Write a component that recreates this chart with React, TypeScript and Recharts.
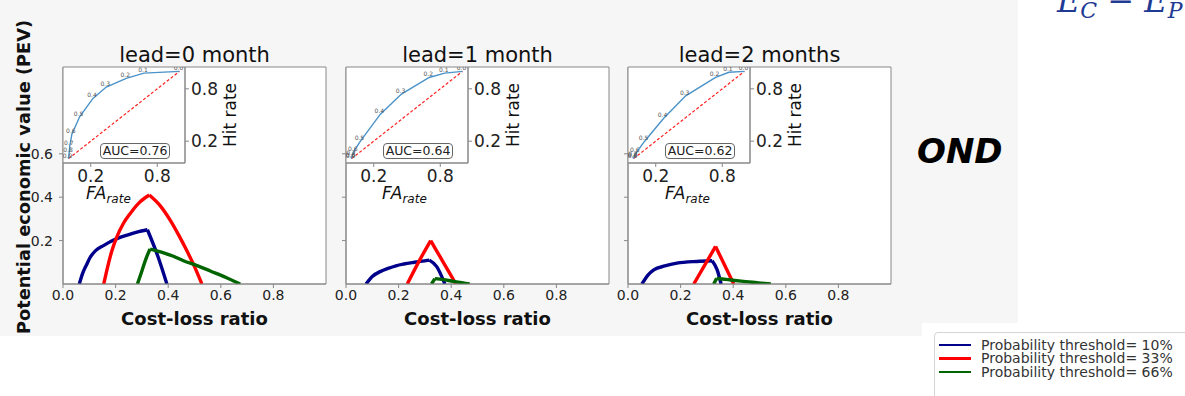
import React from "react";
import { LineChart, Line, XAxis, YAxis, ReferenceArea, LabelList } from "recharts";

type Pt = { x: number; y: number };
type RocPt = { x: number; y: number; t: string };

const leadTitles = ["lead=0 month", "lead=1 month", "lead=2 months"];
const aucLabels = ["AUC=0.76", "AUC=0.64", "AUC=0.62"];
const thresholdNames = [
  "Probability threshold= 10%",
  "Probability threshold= 33%",
  "Probability threshold= 66%",
];
const costLossTicks = [0, 0.2, 0.4, 0.6, 0.8];
const pevTicks = [0.2, 0.4, 0.6];
const rocTicks = [0.2, 0.8];

// PEV curves, x = cost-loss ratio, y = PEV
const pevLead0Th10: Pt[] = [
  { x: 0.062, y: 0 }, { x: 0.075, y: 0.05 }, { x: 0.09, y: 0.09 }, { x: 0.103, y: 0.122 },
  { x: 0.125, y: 0.155 }, { x: 0.154, y: 0.177 }, { x: 0.185, y: 0.198 }, { x: 0.217, y: 0.215 },
  { x: 0.25, y: 0.228 }, { x: 0.281, y: 0.239 }, { x: 0.321, y: 0.25 }, { x: 0.36, y: 0.13 },
  { x: 0.395, y: 0 },
];
const pevLead0Th33: Pt[] = [
  { x: 0.155, y: 0 }, { x: 0.17, y: 0.08 }, { x: 0.185, y: 0.15 }, { x: 0.204, y: 0.215 },
  { x: 0.23, y: 0.28 }, { x: 0.255, y: 0.324 }, { x: 0.29, y: 0.375 }, { x: 0.328, y: 0.41 },
  { x: 0.37, y: 0.36 }, { x: 0.408, y: 0.293 }, { x: 0.44, y: 0.225 }, { x: 0.471, y: 0.153 },
  { x: 0.5, y: 0.08 }, { x: 0.528, y: 0 },
];
const pevLead0Th66: Pt[] = [
  { x: 0.283, y: 0 }, { x: 0.3, y: 0.06 }, { x: 0.315, y: 0.115 }, { x: 0.331, y: 0.161 },
  { x: 0.38, y: 0.145 }, { x: 0.42, y: 0.128 }, { x: 0.458, y: 0.107 }, { x: 0.51, y: 0.085 },
  { x: 0.56, y: 0.06 }, { x: 0.62, y: 0.03 }, { x: 0.674, y: 0 },
];
const pevLead1Th10: Pt[] = [
  { x: 0.076, y: 0 }, { x: 0.1, y: 0.035 }, { x: 0.13, y: 0.057 }, { x: 0.16, y: 0.072 },
  { x: 0.19, y: 0.084 }, { x: 0.22, y: 0.092 }, { x: 0.26, y: 0.1 }, { x: 0.317, y: 0.11 },
  { x: 0.345, y: 0.08 }, { x: 0.376, y: 0 },
];
const pevLead1Th33: Pt[] = [
  { x: 0.233, y: 0 }, { x: 0.28, y: 0.11 }, { x: 0.322, y: 0.2 }, { x: 0.37, y: 0.1 }, { x: 0.418, y: 0 },
];
const pevLead1Th66: Pt[] = [
  { x: 0.325, y: 0 }, { x: 0.338, y: 0.025 }, { x: 0.37, y: 0.02 }, { x: 0.4, y: 0.014 },
  { x: 0.44, y: 0.006 }, { x: 0.47, y: 0 },
];
const pevLead2Th10: Pt[] = [
  { x: 0.053, y: 0 }, { x: 0.075, y: 0.04 }, { x: 0.098, y: 0.065 }, { x: 0.14, y: 0.083 },
  { x: 0.186, y: 0.096 }, { x: 0.262, y: 0.104 }, { x: 0.32, y: 0.107 }, { x: 0.339, y: 0.065 },
  { x: 0.354, y: 0 },
];
const pevLead2Th33: Pt[] = [{ x: 0.25, y: 0 }, { x: 0.333, y: 0.173 }, { x: 0.402, y: 0 }];
const pevLead2Th66: Pt[] = [
  { x: 0.326, y: 0 }, { x: 0.337, y: 0.026 }, { x: 0.38, y: 0.02 }, { x: 0.43, y: 0.013 },
  { x: 0.49, y: 0.006 }, { x: 0.543, y: 0 },
];

// ROC insets, x = false alarm rate, y = hit rate, t = threshold label
const rocLead0: RocPt[] = [
  { x: 0, y: 0, t: "0.9" }, { x: 0.005, y: 0.06, t: "0.8" }, { x: 0.012, y: 0.15, t: "0.7" },
  { x: 0.03, y: 0.28, t: "0.6" }, { x: 0.1, y: 0.48, t: "0.5" }, { x: 0.22, y: 0.69, t: "0.4" },
  { x: 0.34, y: 0.82, t: "0.3" }, { x: 0.52, y: 0.92, t: "0.2" }, { x: 0.68, y: 0.98, t: "0.1" },
  { x: 1, y: 1, t: "0.0" },
];
const rocLead1: RocPt[] = [
  { x: 0, y: 0, t: "0.9" }, { x: 0, y: 0.01, t: "0.8" }, { x: 0.005, y: 0.03, t: "0.7" },
  { x: 0.02, y: 0.08, t: "0.6" }, { x: 0.08, y: 0.2, t: "0.5" }, { x: 0.26, y: 0.51, t: "0.4" },
  { x: 0.45, y: 0.74, t: "0.3" }, { x: 0.7, y: 0.93, t: "0.2" }, { x: 0.84, y: 0.98, t: "0.1" },
  { x: 1, y: 1, t: "0.0" },
];
const rocLead2: RocPt[] = [
  { x: 0, y: 0, t: "0.9" }, { x: 0, y: 0.01, t: "0.8" }, { x: 0.005, y: 0.02, t: "0.7" },
  { x: 0.02, y: 0.06, t: "0.6" }, { x: 0.1, y: 0.2, t: "0.5" }, { x: 0.27, y: 0.46, t: "0.4" },
  { x: 0.47, y: 0.72, t: "0.3" }, { x: 0.74, y: 0.93, t: "0.2" }, { x: 0.86, y: 0.99, t: "0.1" },
  { x: 1, y: 1, t: "0.0" },
];
const rocDiagonal: Pt[] = [{ x: 0, y: 0 }, { x: 1, y: 1 }];

const pevByLead = [
  [pevLead0Th10, pevLead0Th33, pevLead0Th66],
  [pevLead1Th10, pevLead1Th33, pevLead1Th66],
  [pevLead2Th10, pevLead2Th33, pevLead2Th66],
];
const rocByLead = [rocLead0, rocLead1, rocLead2];

// styling / layout
const SERIES_COLORS = ["#00008b", "#ff0000", "#006400"];
const FONT = "'DejaVu Sans', sans-serif";
const AXIS_GREY = "#888";
const BOX_LEFTS = [63, 346, 628];
const BOX_TOP = 67;
const BOX_W = 263;
const BOX_H = 217;
const INSET_W = 122;
const INSET_H = 96;
const FA_OFFSETS = [23, 36, 37];

const RocLabel = (props: any) => {
  const { x, y, value } = props;
  return (
    <text x={x - 1} y={y - 1} fontSize={6} fill="#555" textAnchor="middle" fontFamily={FONT}>
      {value}
    </text>
  );
};

const fmt = (v: number) => v.toFixed(1);

// split a curve at its peak so each side is smoothed but the peak stays sharp
const splitAtPeak = (s: Pt[]) => {
  let pk = 0;
  s.forEach((p, i) => {
    if (p.y > s[pk].y) pk = i;
  });
  return [s.slice(0, pk + 1), s.slice(pk)];
};

function Panel({ idx }: { idx: number }) {
  const left = BOX_LEFTS[idx];
  const showY = idx === 0;
  return (
    <>
      <div
        style={{
          position: "absolute", left, top: 45, width: BOX_W, textAlign: "center",
          fontSize: 21, lineHeight: 1, color: "#111", whiteSpace: "nowrap",
        }}
      >
        {leadTitles[idx]}
      </div>
      <div style={{ position: "absolute", left: left - 60, top: BOX_TOP - 10 }}>
        <LineChart width={BOX_W + 70} height={BOX_H + 50} margin={{ top: 10, right: 10, bottom: 10, left: 10 }}>
          <XAxis
            type="number" dataKey="x" domain={[0, 1]} allowDataOverflow ticks={costLossTicks}
            tickFormatter={fmt} height={30} tickSize={4} tickMargin={2} stroke={AXIS_GREY}
            tick={{ fill: "#222", fontSize: 14, fontFamily: FONT }}
          />
          <YAxis
            type="number" domain={[0, 1]} allowDataOverflow ticks={pevTicks} tickFormatter={fmt}
            width={50} tickSize={4} tickMargin={6} stroke={AXIS_GREY}
            tick={showY ? { fill: "#222", fontSize: 14, fontFamily: FONT } : () => <g />}
          />
          <ReferenceArea x1={0} x2={1} y1={0} y2={1} fill="#fff" fillOpacity={1} stroke={AXIS_GREY} />
          {pevByLead[idx].flatMap((s, i) =>
            splitAtPeak(s).map((part, j) => (
              <Line
                key={`${i}-${j}`} data={part} dataKey="y" type="monotone" stroke={SERIES_COLORS[i]}
                strokeWidth={3.4} dot={false} isAnimationActive={false}
              />
            ))
          )}
        </LineChart>
      </div>
      <div style={{ position: "absolute", left, top: BOX_TOP }}>
        <LineChart width={INSET_W + 60} height={INSET_H + 40} margin={{ top: 0, right: 0, bottom: 0, left: 0 }}>
          <XAxis
            type="number" dataKey="x" domain={[-0.05, 1.05]} allowDataOverflow ticks={rocTicks}
            tickFormatter={fmt} height={40} tickSize={4} tickMargin={3} stroke={AXIS_GREY}
            tick={{ fill: "#222", fontSize: 17, fontFamily: FONT }}
          />
          <YAxis
            type="number" orientation="right" domain={[-0.05, 1.05]} allowDataOverflow ticks={rocTicks}
            tickFormatter={fmt} width={60} tickSize={4} tickMargin={2} stroke={AXIS_GREY}
            tick={{ fill: "#222", fontSize: 17, fontFamily: FONT }}
          />
          <ReferenceArea
            x1={-0.05} x2={1.05} y1={-0.05} y2={1.05} fill="#fff" fillOpacity={1} stroke={AXIS_GREY}
          />
          <Line
            data={rocDiagonal} dataKey="y" type="linear" stroke="#ff2020" strokeWidth={1.2}
            strokeDasharray="3 2" dot={false} isAnimationActive={false}
          />
          <Line
            data={rocByLead[idx]} dataKey="y" type="linear" stroke="#4a92c8" strokeWidth={1.4}
            dot={false} isAnimationActive={false}
          >
            <LabelList dataKey="t" content={RocLabel} />
          </Line>
        </LineChart>
      </div>
      <div
        style={{
          position: "absolute", left: left + 37, top: 143, width: 68, height: 14,
          border: "1px solid #666", borderRadius: 4, background: "#fff", fontSize: 12.5,
          lineHeight: "14px", textAlign: "center", color: "#222",
        }}
      >
        {aucLabels[idx]}
      </div>
      <div
        style={{
          position: "absolute", left: left + 167, top: 115, fontSize: 17, lineHeight: 1,
          transform: "translate(-50%, -50%) rotate(-90deg)", whiteSpace: "nowrap", color: "#111",
        }}
      >
        Hit rate
      </div>
      <div
        style={{
          position: "absolute", left: left + FA_OFFSETS[idx], top: 185, fontSize: 17, lineHeight: 1,
          fontStyle: "italic", whiteSpace: "nowrap", color: "#111",
        }}
      >
        FA
        <span style={{ fontSize: 12, verticalAlign: "-4px" }}>rate</span>
      </div>
      <div
        style={{
          position: "absolute", left, top: 310, width: BOX_W, textAlign: "center", fontSize: 18,
          lineHeight: 1, fontWeight: "bold", color: "#111", whiteSpace: "nowrap",
        }}
      >
        Cost-loss ratio
      </div>
    </>
  );
}

export default function App() {
  return (
    <div
      style={{
        position: "absolute", left: 0, top: 0, width: 1185, height: 396, overflow: "hidden",
        background: "#fff", fontFamily: FONT,
      }}
    >
      <div style={{ position: "absolute", left: 0, top: 0, width: 1018, height: 336, background: "#f6f6f6" }} />
      <div style={{ position: "absolute", left: 922, top: 323, width: 96, height: 13, background: "#fff" }} />
      <div
        style={{
          position: "absolute", left: 24, top: 177, fontSize: 17.8, lineHeight: 1, fontWeight: "bold",
          transform: "translate(-50%, -50%) rotate(-90deg)", whiteSpace: "nowrap", color: "#111",
        }}
      >
        Potential economic value (PEV)
      </div>
      {[0, 1, 2].map((i) => (
        <Panel key={i} idx={i} />
      ))}
      <div
        style={{
          position: "absolute", left: 917, top: 134, fontSize: 34, lineHeight: 1, fontWeight: "bold",
          fontStyle: "italic", color: "#000",
        }}
      >
        OND
      </div>
      <div
        style={{
          position: "absolute", left: 1057, top: -15, fontSize: 32, lineHeight: 1, fontStyle: "italic",
          fontFamily: "'DejaVu Serif', serif", color: "#1f3a93", whiteSpace: "nowrap",
        }}
      >
        E<span style={{ fontSize: 22, verticalAlign: "-6px" }}>C</span> − E
        <span style={{ fontSize: 22, verticalAlign: "-6px" }}>P</span>
      </div>
      <div
        style={{
          position: "absolute", left: 934, top: 332, width: 270, height: 80, border: "1px solid #d4d4d4",
          borderRadius: 4, background: "#fff",
        }}
      >
        {thresholdNames.map((name, i) => (
          <div key={i} style={{ display: "flex", alignItems: "center", height: 13.5, marginTop: i === 0 ? 5 : 0 }}>
            <div style={{ width: 32, height: 2.5, background: SERIES_COLORS[i], marginLeft: 4, marginRight: 10 }} />
            <span style={{ fontSize: 14, color: "#333", whiteSpace: "nowrap" }}>{name}</span>
          </div>
        ))}
      </div>
    </div>
  );
}
